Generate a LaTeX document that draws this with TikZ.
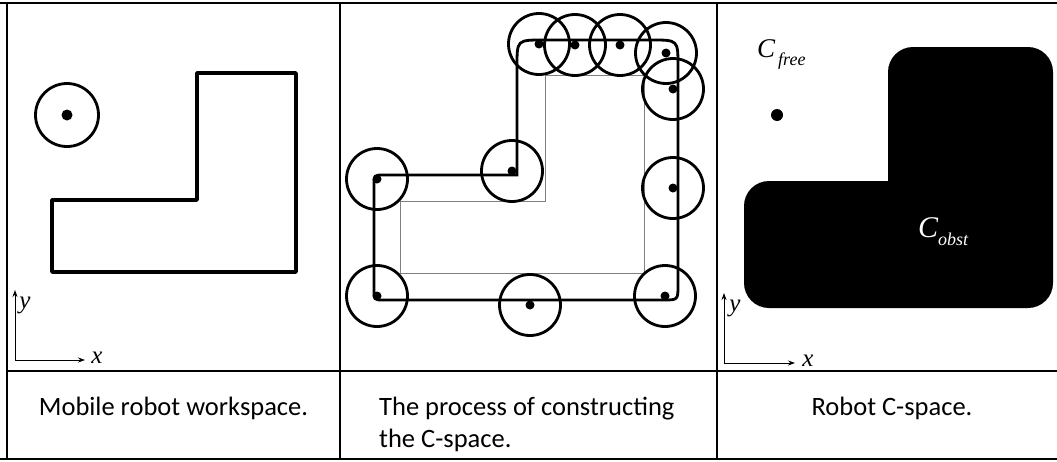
\documentclass[tikz,border=0pt]{standalone}
\usepackage{fontspec}
\setmainfont{Carlito}
\newfontfamily\timesfont{Liberation Serif}
\usetikzlibrary{arrows.meta}

\begin{document}
\begin{tikzpicture}[x=1pt, y=-1pt,
    rule/.style={line width=1.6pt},
    refpt/.style={fill=black, circle, inner sep=0pt, minimum size=#1},
    robot/.style={draw, circle, line width=2.8pt, inner sep=0pt, minimum size=#1},
    axis/.style={-{Stealth[length=7pt, width=5pt]}, line width=0.9pt},
    axlabel/.style={inner sep=0pt, font=\timesfont\itshape\fontsize{25}{25}\selectfont},
    caption/.style={inner sep=0pt, font=\fontsize{26.5}{32}\selectfont}]

    \useasboundingbox (0,0) rectangle (1057,461);

    % table rules
    \draw[line width=2.2pt] (0,3) -- (1057,3);
    \draw[line width=2.2pt] (0,459) -- (1057,459);
    \draw[rule] (7,3) -- (7,459);
    \draw[rule] (340,3) -- (340,459);
    \draw[rule] (717,3) -- (717,459);
    \draw[rule] (7,371) -- (1057,371);

    % workspace: robot and obstacle
    \node[robot=63pt] (r0) at (67,115) {};
    \node[refpt=11pt] (c0) at (r0) {};
    \draw[line width=3.4pt, line join=round]
        (52,200) -- (197,200) -- (197,73) -- (296,73) -- (296,272) -- (52,272) -- cycle;

    \coordinate (o1) at (15,360);
    \coordinate (ox1) at (85,360);
    \coordinate (oy1) at (15,290);
    \draw[axis] (o1) -- (ox1);
    \draw[axis] (o1) -- (oy1);
    \node[axlabel] (x1) at (97,358) {x};
    \node[axlabel] (y1) at (25,305) {y};

    % sliding the robot round the obstacle
    \draw[gray, line width=1pt]
        (400,201) -- (545,201) -- (545,75) -- (644,75) -- (644,273) -- (400,273) -- cycle;
    \draw[line width=2.8pt]
        (517,175) -- (384,175) .. controls (374,175) .. (374,185)
        -- (374,290) .. controls (374,300) .. (384,300)
        -- (663,300) .. controls (678,300) .. (678,285)
        -- (678,66) .. controls (678,40) .. (652,40)
        -- (543,40) .. controls (517,40) .. (517,66) -- cycle;

    \foreach \px/\py [count=\i] in {377/179, 512/171, 377/296, 530/305, 665/296,
                                   673/188, 673/89, 666/53, 620/45, 575/45, 539/44} {
        \node[robot=61pt] (s\i) at (\px,\py) {};
        \node[refpt=9pt] (p\i) at (s\i) {};
    }

    % configuration space
    \fill (888,181) [rounded corners=25pt] -- (888,47) -- (1053,47) -- (1053,308)
        -- (744,308) -- (744,181) -- (888,181);
    \node[refpt=12pt] (q) at (777,115) {};

    \node[anchor=base west, inner sep=0pt] (cfree) at (757,57)
        {\timesfont\itshape\fontsize{27}{27}\selectfont C\kern3pt\raisebox{-8pt}{\fontsize{18}{18}\selectfont free}};
    \node[anchor=base west, inner sep=0pt, text=white] (cobst) at (918,237)
        {\timesfont\itshape\fontsize{30}{30}\selectfont C\raisebox{-8pt}{\fontsize{18}{18}\selectfont obst}};

    \coordinate (o3) at (724,363);
    \coordinate (ox3) at (795,363);
    \coordinate (oy3) at (724,293);
    \draw[axis] (o3) -- (ox3);
    \draw[axis] (o3) -- (oy3);
    \node[axlabel] (x3) at (808,361) {x};
    \node[axlabel] (y3) at (735,308) {y};

    % captions
    \node[caption, anchor=base] (t1) at (173.5,415) {Mobile robot workspace.};
    \node[caption, anchor=base west, align=left] (t2) at (379,447)
        {The process of constructing\\the C-space.};
    \node[caption, anchor=base] (t3) at (892,415) {Robot C-space.};
\end{tikzpicture}
\end{document}
